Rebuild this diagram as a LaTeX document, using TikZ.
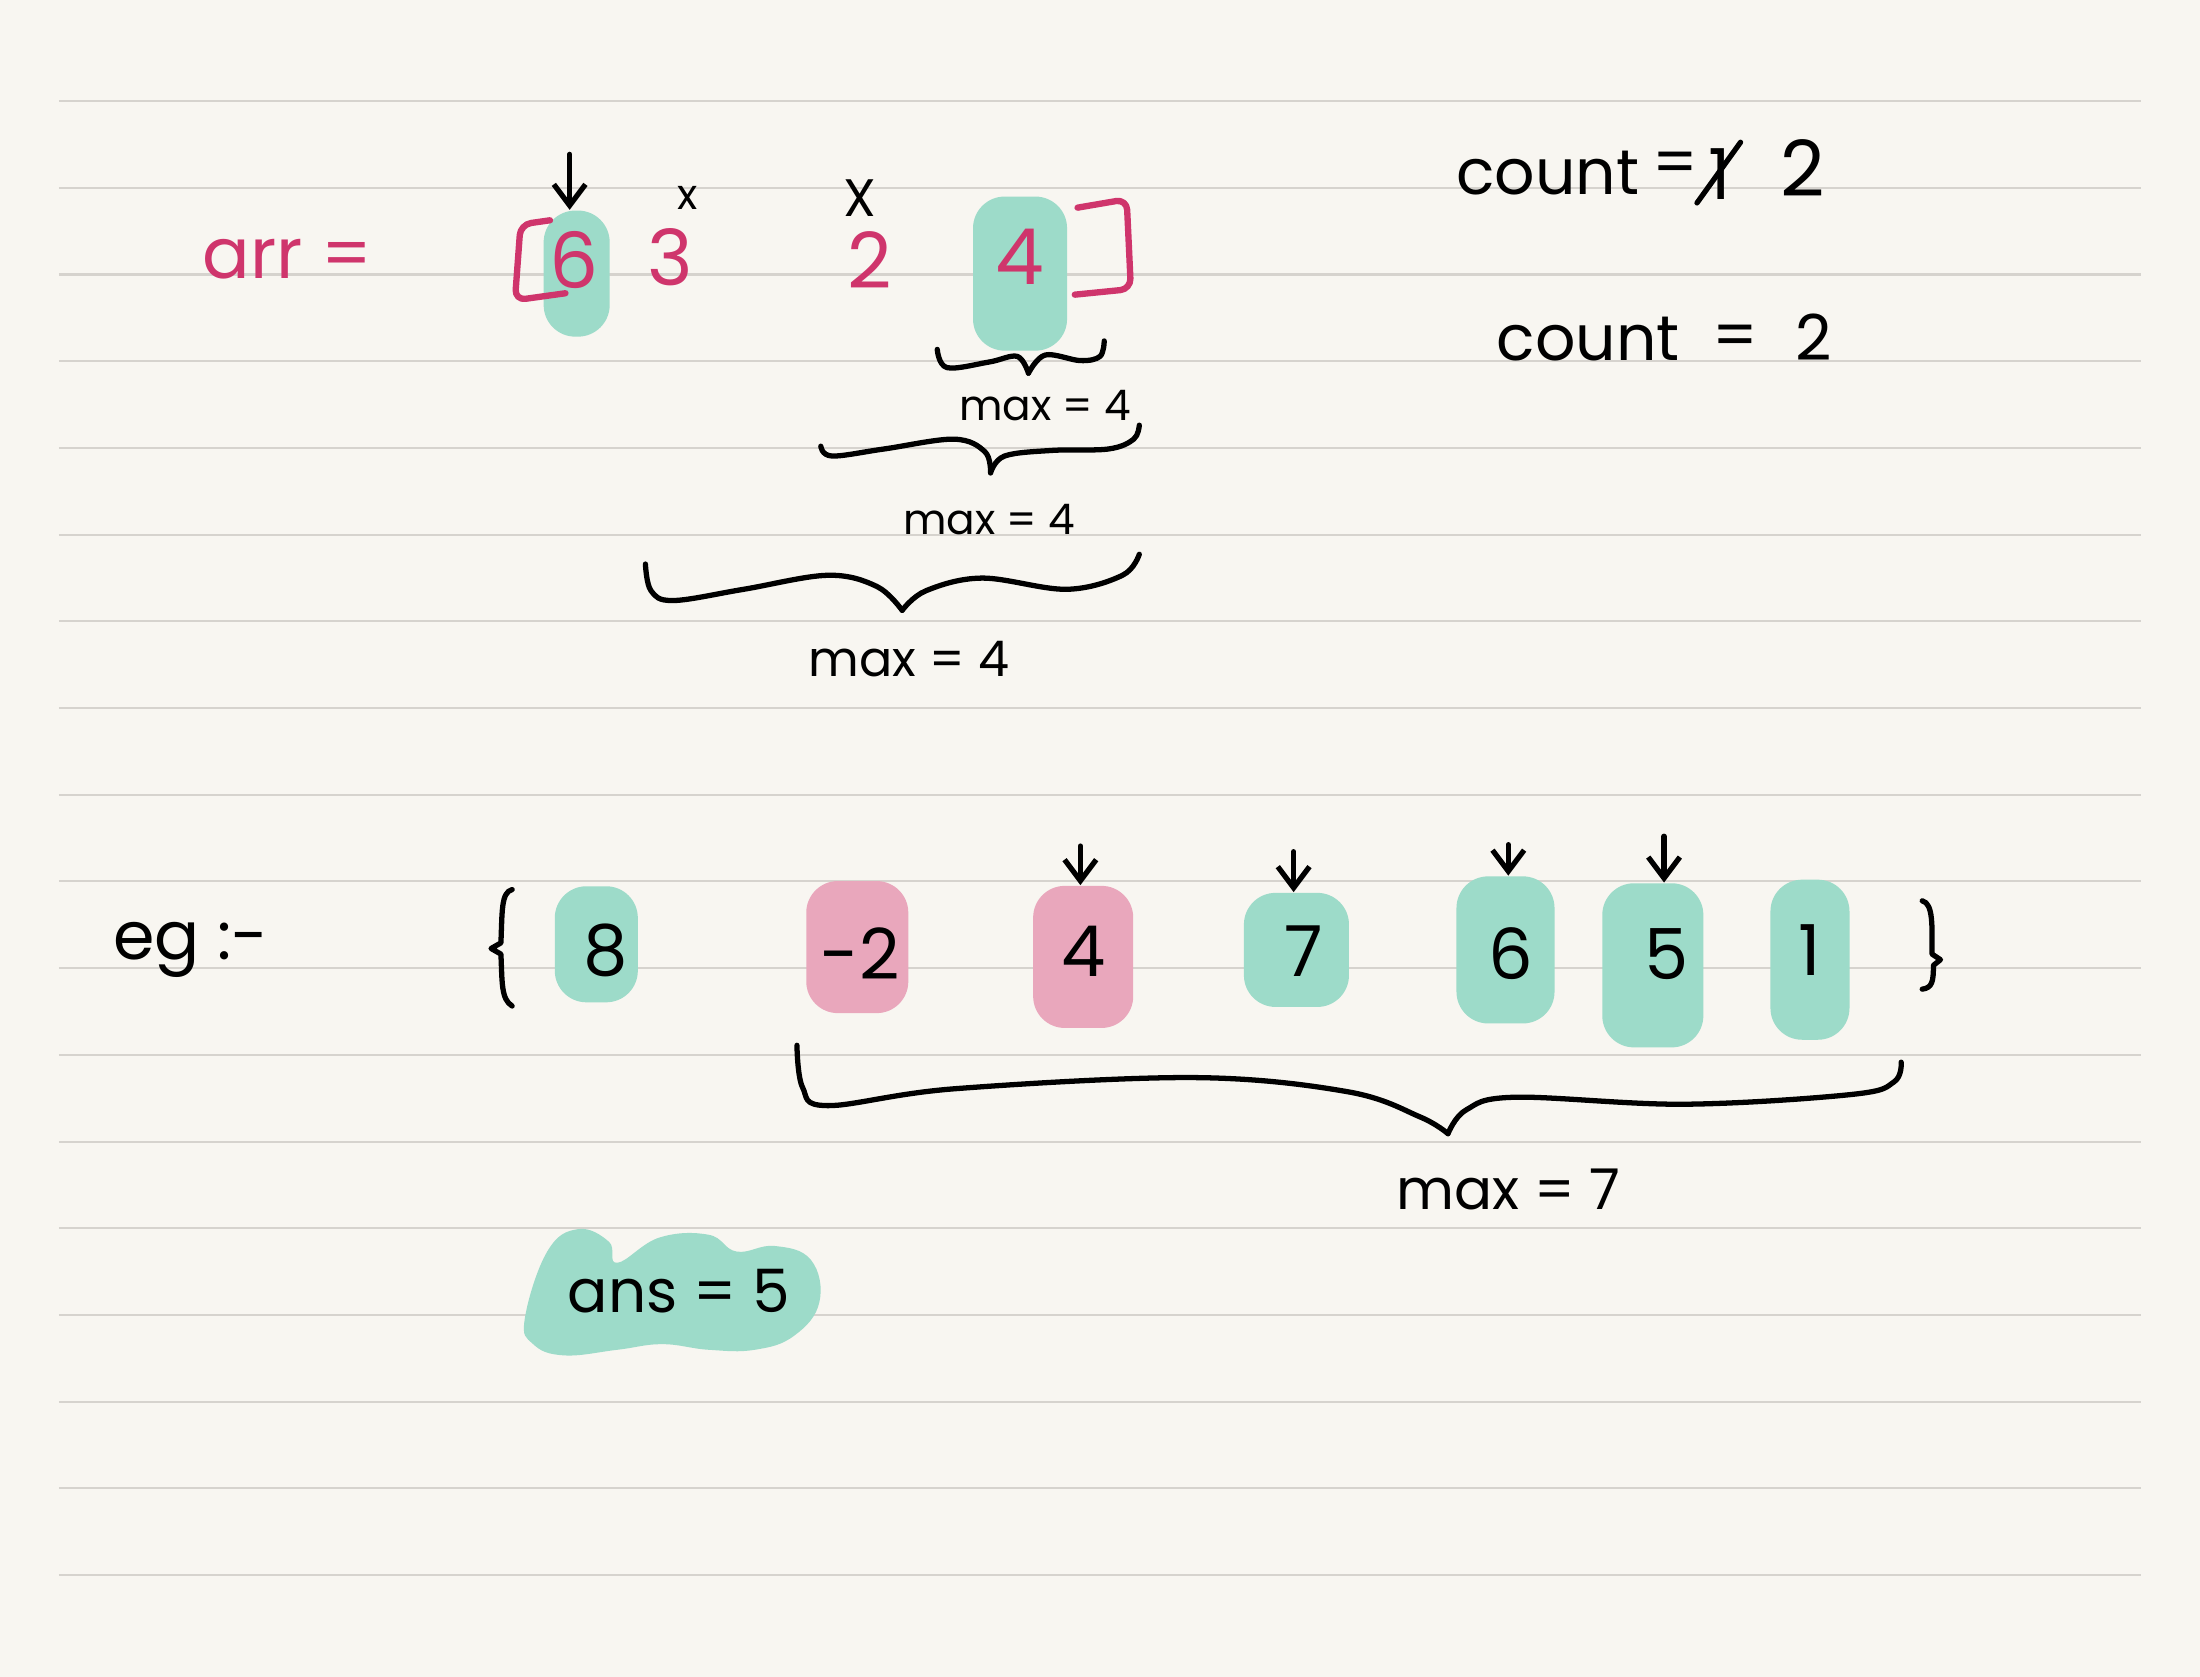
\documentclass[tikz,border=0pt]{standalone}
\usepackage{fontspec}
\setmainfont{Poppins}
\usetikzlibrary{arrows.meta}
\definecolor{paper}{HTML}{F8F6F1}
\definecolor{rulegray}{HTML}{D6D3CE}
\definecolor{hiteal}{HTML}{9DDBC9}
\definecolor{hipink}{HTML}{E9A7BC}
\definecolor{inkpink}{HTML}{CF356C}
\begin{document}
\begin{tikzpicture}[x=0.01403cm,y=-0.01403cm,
  ink/.style={line width=1.5pt,line cap=round,line join=round},
  pinkink/.style={line width=1.8pt,line cap=round,line join=round,draw=inkpink,rounded corners=3pt},
  hl/.style={fill=hiteal,rounded corners=9pt,inner sep=0},
  hlp/.style={fill=hipink,rounded corners=9pt,inner sep=0},
  txt/.style={inner sep=0,font=\fontsize{20}{22}\selectfont},
  ptxt/.style={txt,text=inkpink,font=\fontsize{22}{24}\selectfont},
  ptr/.style={ink,-{Straight Barb[length=6pt,width=9pt]}}]
\fill[paper] (0,0) rectangle (1568,1195);
\useasboundingbox (0,0) rectangle (1568,1195);
\foreach \k in {0,...,17} \draw[rulegray,line width=0.6pt] (42,{72+61.8*\k}) -- (1526,{72+61.8*\k});

% ---------- top part ----------
\node[hl,minimum width=6.6mm,minimum height=12.6mm] (b6) at (411,195) {};
\node[hl,minimum width=9.4mm,minimum height=15.4mm] (b4) at (727,195) {};
\draw[pinkink] (392,157) -- (371,160) -- (367,214) -- (403,209);
\draw[pinkink] (768,148) -- (803,142) -- (806,206) -- (766,210);
\node[ptxt,font=\fontsize{20}{24}\selectfont] (arr) at (205,185) {arr =};
\node[ptxt] (a6) at (409,185) {6};
\node[ptxt] (a3) at (478,183) {3};
\node[ptxt] (a2) at (620,185) {2};
\node[ptxt] (a4) at (727,183) {4};
\node[inner sep=0,font=\fontsize{12}{14}\selectfont] (x1) at (490,141) {x};
\node[inner sep=0,font=\fontsize{15}{17}\selectfont] (x2) at (613,141) {X};
\coordinate (p0) at (406,110);
\draw[ptr] (p0) -- (p0 |- b6.north);

% braces under the top array
\draw[ink] plot[smooth,tension=0.6] coordinates {(668,249) (675,262) (705,258) (725,254) (733,266)};
\draw[ink] plot[smooth,tension=0.6] coordinates {(733,266) (745,253) (770,257) (784,254) (787,243)};
\node[inner sep=0,font=\fontsize{12}{14}\selectfont] (m1) at (745,289) {max = 4};
\draw[ink] plot[smooth,tension=0.6] coordinates {(585,318) (593,325) (630,320) (680,313) (702,322) (706,337)};
\draw[ink] plot[smooth,tension=0.6] coordinates {(706,337) (716,325) (750,321) (790,320) (808,313) (812,303)};
\node[inner sep=0,font=\fontsize{12}{14}\selectfont] (m2) at (705,370) {max = 4};
\draw[ink] plot[smooth,tension=0.6] coordinates {(460,402) (464,421) (480,428) (530,420) (590,410) (625,418) (643,435)};
\draw[ink] plot[smooth,tension=0.6] coordinates {(643,435) (660,421) (700,412) (760,420) (800,410) (812,395)};
\node[inner sep=0,font=\fontsize{14}{16}\selectfont] (m3) at (648,470) {max = 4};

% counters
\node[txt,font=\fontsize{18}{22}\selectfont] (c1) at (1103,123) {count};
\node[txt,font=\fontsize{18}{22}\selectfont] (c1eq) at (1194,120) {=};
\node[txt] (c1one) at (1226,124) {1};
\draw[ink] (c1one.south west) ++(-8,2) -- ([shift={(6,-4)}]c1one.north east);
\node[txt,font=\fontsize{22}{24}\selectfont] (c1two) at (1285,120) {2};
\node[txt,font=\fontsize{18}{22}\selectfont] (c2) at (1132,242) {count};
\node[txt,font=\fontsize{18}{22}\selectfont] (c2eq) at (1237,243) {=};
\node[txt,font=\fontsize{18}{22}\selectfont] (c2two) at (1293,240) {2};

% ---------- example ----------
\node[txt,font=\fontsize{19}{22}\selectfont] (eg) at (136,677) {eg :-};
\draw[ink] (365,634) .. controls (357,636) and (358,650) .. (357,672) -- (350,676) -- (357,680) .. controls (358,700) and (357,712) .. (365,717);
\node[hl,minimum width=8.3mm,minimum height=11.6mm] (e8) at (425,673) {};
\node[hlp,minimum width=10.2mm,minimum height=13.2mm] (em2) at (611,675) {};
\node[hlp,minimum width=10.0mm,minimum height=14.2mm] (e4) at (772,682) {};
\node[hl,minimum width=10.5mm,minimum height=11.4mm] (e7) at (924,677) {};
\node[hl,minimum width=9.8mm,minimum height=14.7mm] (e6) at (1073,677) {};
\node[hl,minimum width=10.1mm,minimum height=16.4mm] (e5) at (1178,688) {};
\node[hl,minimum width=7.9mm,minimum height=16.0mm] (e1) at (1290,684) {};
\node[txt] (t8) at (432,677) {8};
\node[txt] (tm2) at (613,680) {-2};
\node[txt] (t4) at (772,678) {4};
\node[txt] (t7) at (929,678) {7};
\node[txt] (t6) at (1077,680) {6};
\node[txt] (t5) at (1188,680) {5};
\node[txt] (t1) at (1290,677) {1};
\draw[ink] (1370,642) .. controls (1378,644) and (1377,660) .. (1377,680) -- (1383,684) -- (1378,688) .. controls (1378,700) and (1377,704) .. (1370,705);
\coordinate (q4) at (770,603);
\coordinate (q7) at (922,607);
\coordinate (q6) at (1075,602);
\coordinate (q5) at (1186,596);
\draw[ptr] (q4) -- (q4 |- e4.north);
\draw[ptr] (q7) -- (q7 |- e7.north);
\draw[ptr] (q6) -- (q6 |- e6.north);
\draw[ptr] (q5) -- (q5 |- e5.north);

\draw[ink] plot[smooth,tension=0.6] coordinates {(568,745) (572,775) (590,788) (680,776) (850,768) (960,778) (1012,796) (1032,808)};
\draw[ink] plot[smooth,tension=0.6] coordinates {(1032,808) (1045,791) (1080,782) (1200,787) (1320,780) (1350,771) (1355,757)};
\node[inner sep=0,font=\fontsize{16}{18}\selectfont] (m7) at (1075,848) {max = 7};

\fill[hiteal] plot[smooth cycle,tension=0.7] coordinates {(374,940) (390,892) (412,876) (434,885) (440,900) (470,882) (505,880) (525,892) (552,888) (578,898) (584,928) (566,952) (538,962) (505,962) (472,958) (440,962) (402,966) (380,958)};
\node[txt,font=\fontsize{17}{20}\selectfont] (ans) at (484,920) {ans = 5};
\end{tikzpicture}
\end{document}
